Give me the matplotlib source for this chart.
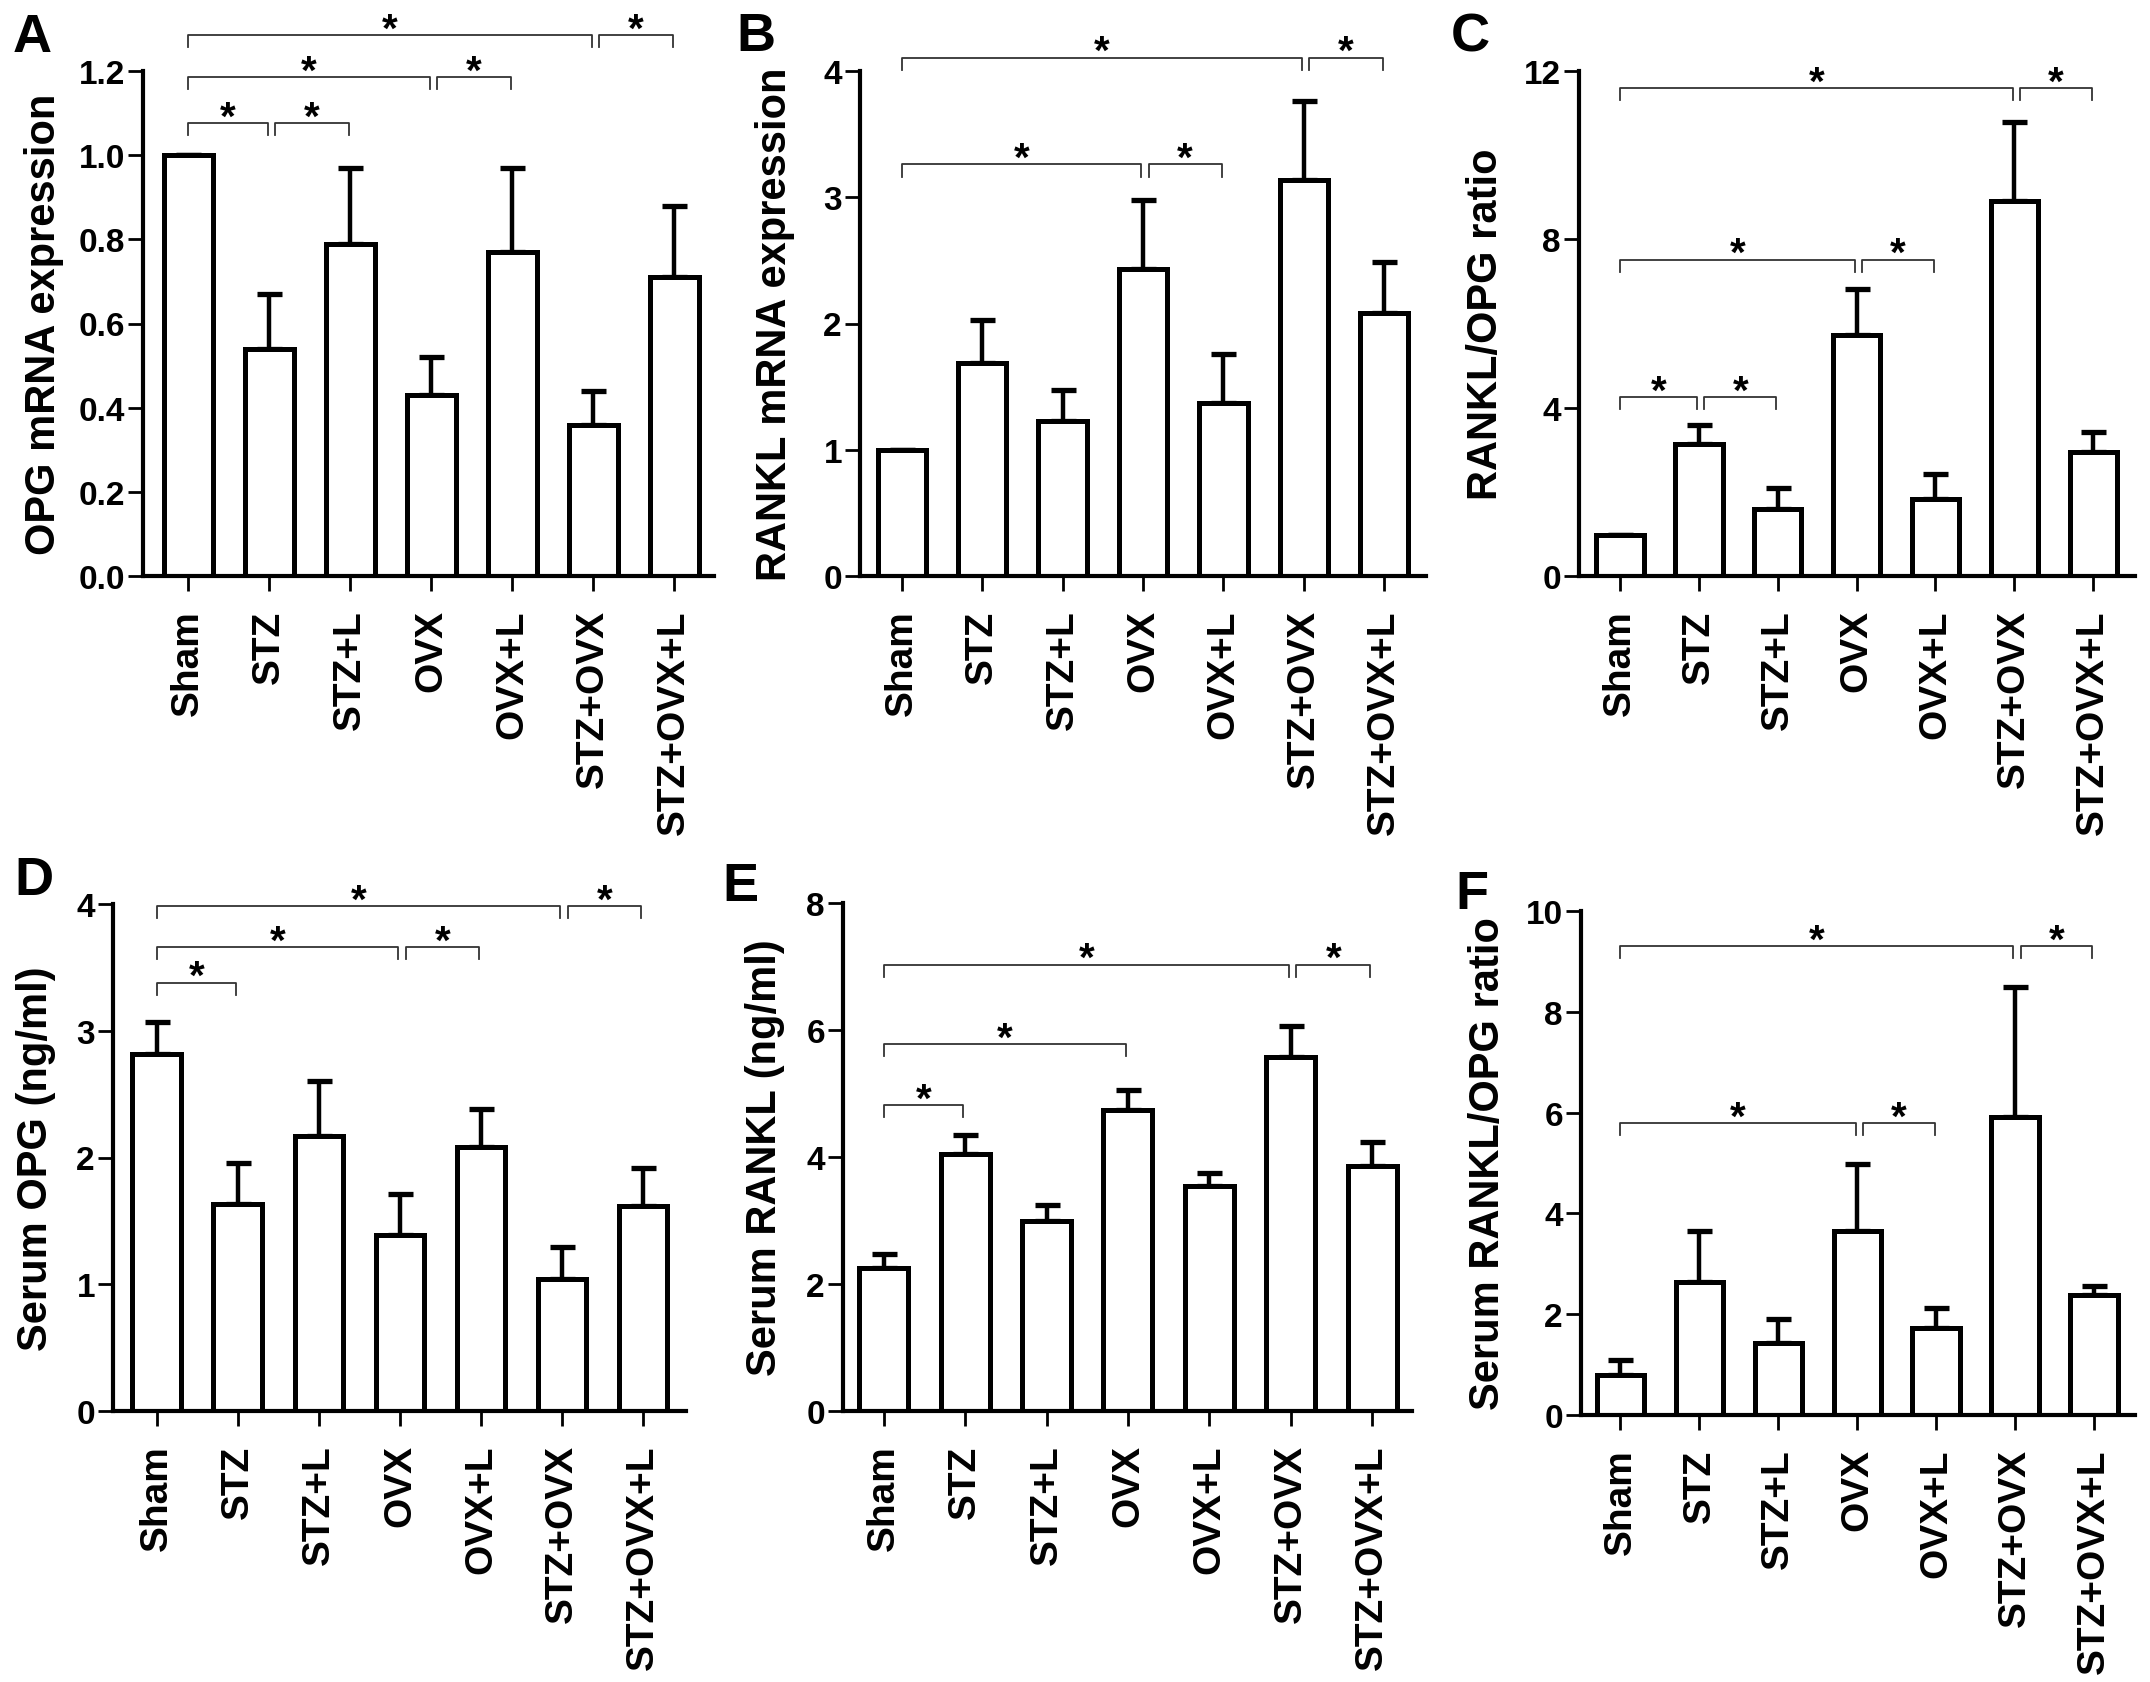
import matplotlib.pyplot as plt
import numpy as np

plt.rcParams['font.family'] = ['Liberation Sans', 'DejaVu Sans']
plt.rcParams['font.weight'] = 'bold'

groups = ['Sham', 'STZ', 'STZ+L', 'OVX', 'OVX+L', 'STZ+OVX', 'STZ+OVX+L']

opg_mrna = [1.00, 0.54, 0.79, 0.43, 0.77, 0.36, 0.71]
opg_mrna_err = [0.0, 0.13, 0.18, 0.09, 0.20, 0.08, 0.17]
rankl_mrna = [1.00, 1.69, 1.23, 2.43, 1.37, 3.14, 2.08]
rankl_mrna_err = [0.0, 0.34, 0.24, 0.55, 0.39, 0.62, 0.41]
ratio_mrna = [0.97, 3.14, 1.59, 5.73, 1.82, 8.91, 2.95]
ratio_mrna_err = [0.0, 0.45, 0.50, 1.09, 0.61, 1.88, 0.46]
serum_opg = [2.82, 1.63, 2.17, 1.39, 2.08, 1.04, 1.62]
serum_opg_err = [0.25, 0.33, 0.43, 0.32, 0.30, 0.25, 0.30]
serum_rankl = [2.25, 4.05, 2.99, 4.74, 3.54, 5.57, 3.86]
serum_rankl_err = [0.22, 0.30, 0.25, 0.32, 0.21, 0.50, 0.37]
serum_ratio = [0.80, 2.63, 1.43, 3.66, 1.72, 5.91, 2.39]
serum_ratio_err = [0.29, 1.03, 0.48, 1.33, 0.40, 2.59, 0.16]

# significance brackets: (group i, group j, height)
sig_a = [(0, 1, 1.077), (1, 2, 1.077), (0, 3, 1.186), (3, 4, 1.186), (0, 5, 1.285), (5, 6, 1.285)]
sig_b = [(0, 3, 3.26), (3, 4, 3.26), (0, 5, 4.106), (5, 6, 4.106)]
sig_c = [(0, 1, 4.245), (1, 2, 4.245), (0, 3, 7.52), (3, 4, 7.52), (0, 5, 11.59), (5, 6, 11.59)]
sig_d = [(0, 1, 3.38), (0, 3, 3.66), (3, 4, 3.66), (0, 5, 3.985), (5, 6, 3.985)]
sig_e = [(0, 1, 4.82), (0, 3, 5.78), (0, 5, 7.03), (5, 6, 7.03)]
sig_f = [(0, 3, 5.79), (3, 4, 5.79), (0, 5, 9.30), (5, 6, 9.30)]

W, H = 2150, 1683
fig = plt.figure(figsize=(W / 100, H / 100), dpi=100)

# letter, values, errors, brackets, ylabel, ymax, yticks, tick fmt,
# axes box in px (left, right, top, bottom), xlim, ylabel right edge px, letter pos px
panels = [
    ('A', opg_mrna, opg_mrna_err, sig_a, 'OPG mRNA expression', 1.2,
     np.arange(0, 1.21, 0.2), '%.1f', (143, 714, 72, 577), (-0.56, 6.49), 64, (13, 13)),
    ('B', rankl_mrna, rankl_mrna_err, sig_b, 'RANKL mRNA expression', 4,
     np.arange(0, 5, 1), '%d', (860, 1426, 72, 577), (-0.52, 6.52), 795, (736, 12)),
    ('C', ratio_mrna, ratio_mrna_err, sig_c, 'RANKL/OPG ratio', 12,
     np.arange(0, 13, 4), '%d', (1579, 2135, 72, 577), (-0.52, 6.53), 1506, (1451, 12)),
    ('D', serum_opg, serum_opg_err, sig_d, 'Serum OPG (ng/ml)', 4,
     np.arange(0, 5, 1), '%d', (113, 686, 905, 1412), (-0.54, 6.53), 56, (14, 856)),
    ('E', serum_rankl, serum_rankl_err, sig_e, 'Serum RANKL (ng/ml)', 8,
     np.arange(0, 9, 2), '%d', (843, 1412, 904, 1412), (-0.50, 6.49), 785, (722, 862)),
    ('F', serum_ratio, serum_ratio_err, sig_f, 'Serum RANKL/OPG ratio', 10,
     np.arange(0, 11, 2), '%d', (1581, 2135, 912, 1416), (-0.50, 6.52), 1508, (1455, 870)),
]

x = np.arange(len(groups))

for letter, vals, errs, sigs, ylab, ymax, yt, fmt, box, xl, labx, lpos in panels:
    x0, x1, yt0, yb0 = box
    ax = fig.add_axes([x0 / W, 1 - yb0 / H, (x1 - x0) / W, (yb0 - yt0) / H])
    ax.bar(x, vals, width=0.6, color='white', edgecolor='black', linewidth=3.6, zorder=2)
    ax.errorbar(x, vals, yerr=[np.zeros(len(vals)), errs], fmt='none', ecolor='black',
                elinewidth=3.2, capsize=9, capthick=3.8, zorder=1)
    ax.set_xlim(*xl)
    ax.set_ylim(0, ymax)
    ax.set_yticks(yt)
    ax.set_yticklabels([fmt % v for v in yt])
    ax.set_xticks(x)
    ax.set_xticklabels(groups, rotation=90)
    for s in ['top', 'right']:
        ax.spines[s].set_visible(False)
    for s in ['left', 'bottom']:
        ax.spines[s].set_linewidth(3.0)
    ax.tick_params(axis='y', length=11, width=2.0, pad=2, labelsize=24)
    ax.tick_params(axis='x', length=11, width=2.0, pad=13, labelsize=28)
    ax.set_ylabel(ylab, fontsize=30, fontweight='bold')
    ax.yaxis.set_label_coords((labx - x0) / (x1 - x0), 0.5)

    leg = 0.024 * ymax
    for i, j, yb in sigs:
        xa = i + (0.07 if i > 0 else 0.0)
        xb = j - 0.02
        ax.plot([xa, xa, xb, xb], [yb - leg, yb, yb, yb - leg], color='#333333',
                lw=1.3, clip_on=False, zorder=3)
        ax.annotate('*', ((xa + xb) / 2, yb), xytext=(0, -4), textcoords='offset points',
                    ha='center', va='baseline', fontsize=29, fontweight='bold',
                    annotation_clip=False)

    fig.text(lpos[0] / W, 1 - lpos[1] / H, letter, ha='left', va='top',
             fontsize=39, fontweight='bold')

fig.savefig('out.png', dpi=100)
